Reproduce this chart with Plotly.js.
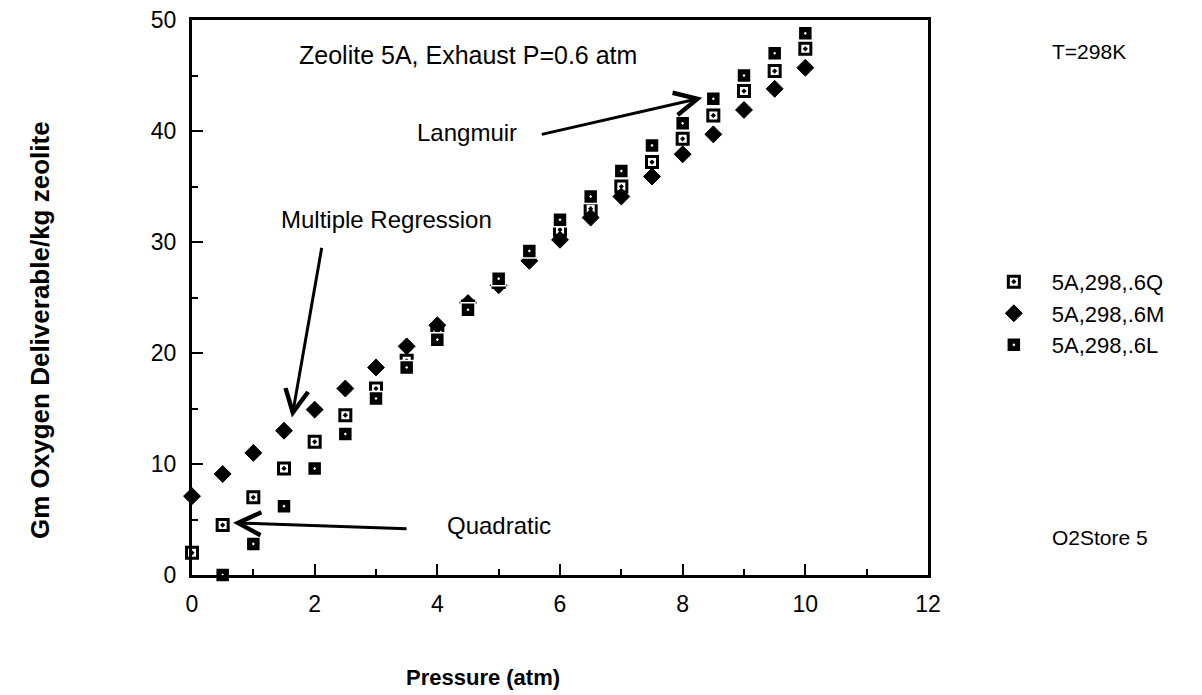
<!DOCTYPE html>
<html>
<head>
<meta charset="utf-8">
<script src="https://cdn.plot.ly/plotly-3.0.1.min.js"></script>
<style>html,body{margin:0;padding:0;background:#fff;}#chart{width:1202px;height:695px;}</style>
</head>
<body>
<div id="chart"></div>
<script>
// Pressure (atm)
const pressure = [0, 0.5, 1, 1.5, 2, 2.5, 3, 3.5, 4, 4.5, 5, 5.5, 6, 6.5, 7, 7.5, 8, 8.5, 9, 9.5, 10];
// Gm O2 deliverable / kg zeolite
const seriesQ = [2.0, 4.5, 7.0, 9.6, 12.0, 14.4, 16.8, 19.3, 21.8, 24.2, 26.4, 28.8, 31.1, 33.0, 35.0, 37.2, 39.3, 41.4, 43.6, 45.4, 47.4];
const seriesM = [7.1, 9.1, 11.0, 13.0, 14.9, 16.8, 18.7, 20.6, 22.5, 24.5, 26.1, 28.3, 30.2, 32.2, 34.1, 35.9, 37.9, 39.7, 41.9, 43.8, 45.7];
const seriesL = [null, 0.0, 2.8, 6.2, 9.6, 12.7, 15.9, 18.7, 21.2, 23.9, 26.7, 29.2, 32.0, 34.1, 36.4, 38.7, 40.7, 42.9, 45.0, 47.0, 48.8];
const seriesNames = ['5A,298,.6Q', '5A,298,.6M', '5A,298,.6L'];
const xTicks = [0, 2, 4, 6, 8, 10, 12];
const yTicks = [0, 10, 20, 30, 40, 50];

const FONT = 'Liberation Sans, Arial, Helvetica, sans-serif';

const traces = [
  {x: pressure, y: seriesQ, name: seriesNames[0], type: 'scatter', mode: 'markers', cliponaxis: false,
   marker: {symbol: 'square-dot', size: 11, color: '#fff', line: {color: '#000', width: 3}}},
  {x: pressure, y: seriesM, name: seriesNames[1], type: 'scatter', mode: 'markers', cliponaxis: false,
   marker: {symbol: 'diamond', size: 13, color: '#000', line: {color: '#000', width: 1}}},
  {x: pressure, y: seriesL, name: seriesNames[2], type: 'scatter', mode: 'markers', cliponaxis: false,
   marker: {symbol: 'square-dot', size: 14, color: '#000', line: {color: '#fff', width: 1.5}}}
];

const arrowBase = {text: '', showarrow: true, arrowhead: 5, arrowsize: 1.5, arrowwidth: 3,
  arrowcolor: '#000', xref: 'x', yref: 'y', axref: 'pixel', ayref: 'pixel'};

const layout = {
  width: 1202, height: 695,
  margin: {l: 192, r: 274, t: 20, b: 120},
  paper_bgcolor: '#fff', plot_bgcolor: '#fff',
  font: {family: FONT, size: 23, color: '#000'},
  showlegend: true,
  legend: {x: 1.065, xanchor: 'left', y: 0.566, yanchor: 'top', itemwidth: 66,
    font: {family: FONT, size: 22, color: '#000'}, bgcolor: 'rgba(0,0,0,0)', borderwidth: 0},
  xaxis: {range: [0, 12], tickvals: xTicks, ticks: 'inside', ticklen: 11, tickwidth: 2, tickcolor: '#000',
    minor: {dtick: 1, ticks: 'inside', ticklen: 6, tickwidth: 2, tickcolor: '#000', showgrid: false},
    showline: true, linewidth: 3, linecolor: '#000', mirror: true, showgrid: false, zeroline: false,
    ticklabelstandoff: 6, tickfont: {family: FONT, size: 23, color: '#000'}},
  yaxis: {range: [0, 50], tickvals: yTicks, ticks: 'inside', ticklen: 11, tickwidth: 2, tickcolor: '#000',
    minor: {dtick: 5, ticks: 'inside', ticklen: 6, tickwidth: 2, tickcolor: '#000', showgrid: false},
    showline: true, linewidth: 3, linecolor: '#000', mirror: true, showgrid: false, zeroline: false,
    ticklabelstandoff: 8, tickfont: {family: FONT, size: 23, color: '#000'}},
  annotations: [
    {text: 'Zeolite 5A, Exhaust P=0.6 atm', xref: 'paper', yref: 'paper', x: 0.607, y: 0.937,
     xanchor: 'right', yanchor: 'middle', showarrow: false, font: {size: 25}},
    {text: 'T=298K', xref: 'paper', yref: 'paper', x: (1050 - 192) / 736, y: (575 - 52) / 555,
     xanchor: 'left', yanchor: 'middle', showarrow: false, font: {size: 21}},
    {text: 'O2Store 5', xref: 'paper', yref: 'paper', x: (1050 - 192) / 736, y: (575 - 537) / 555,
     xanchor: 'left', yanchor: 'middle', showarrow: false, font: {size: 21}},
    {text: 'Langmuir', xref: 'paper', yref: 'paper', x: (415 - 192) / 736, y: (575 - 132) / 555,
     xanchor: 'left', yanchor: 'middle', showarrow: false, font: {size: 24}},
    {text: 'Multiple Regression', xref: 'paper', yref: 'paper', x: (494 - 192) / 736, y: (575 - 219) / 555,
     xanchor: 'right', yanchor: 'middle', showarrow: false, font: {size: 24}},
    {text: 'Quadratic', xref: 'paper', yref: 'paper', x: (445 - 192) / 736, y: (575 - 525) / 555,
     xanchor: 'left', yanchor: 'middle', showarrow: false, font: {size: 24}},
    Object.assign({}, arrowBase, {x: 8.32, y: 43.0, ax: -162, ay: 37}),
    Object.assign({}, arrowBase, {x: 1.63, y: 14.2, ax: 30, ay: -171}),
    Object.assign({}, arrowBase, {x: 0.67, y: 4.7, ax: 175, ay: 6}),
    {text: '<b>Gm Oxygen Deliverable/kg zeolite</b>', xref: 'paper', yref: 'paper',
     x: (40 - 192) / 736, y: (575 - 330) / 555, xanchor: 'center', yanchor: 'middle',
     textangle: -90, showarrow: false, font: {size: 26}},
    {text: '<b>Pressure (atm)</b>', xref: 'paper', yref: 'paper',
     x: (483 - 192) / 736, y: (575 - 678) / 555, xanchor: 'center', yanchor: 'middle',
     showarrow: false, font: {size: 22}}
  ]
};

Plotly.newPlot('chart', traces, layout, {displayModeBar: false, staticPlot: true});
</script>
</body>
</html>
